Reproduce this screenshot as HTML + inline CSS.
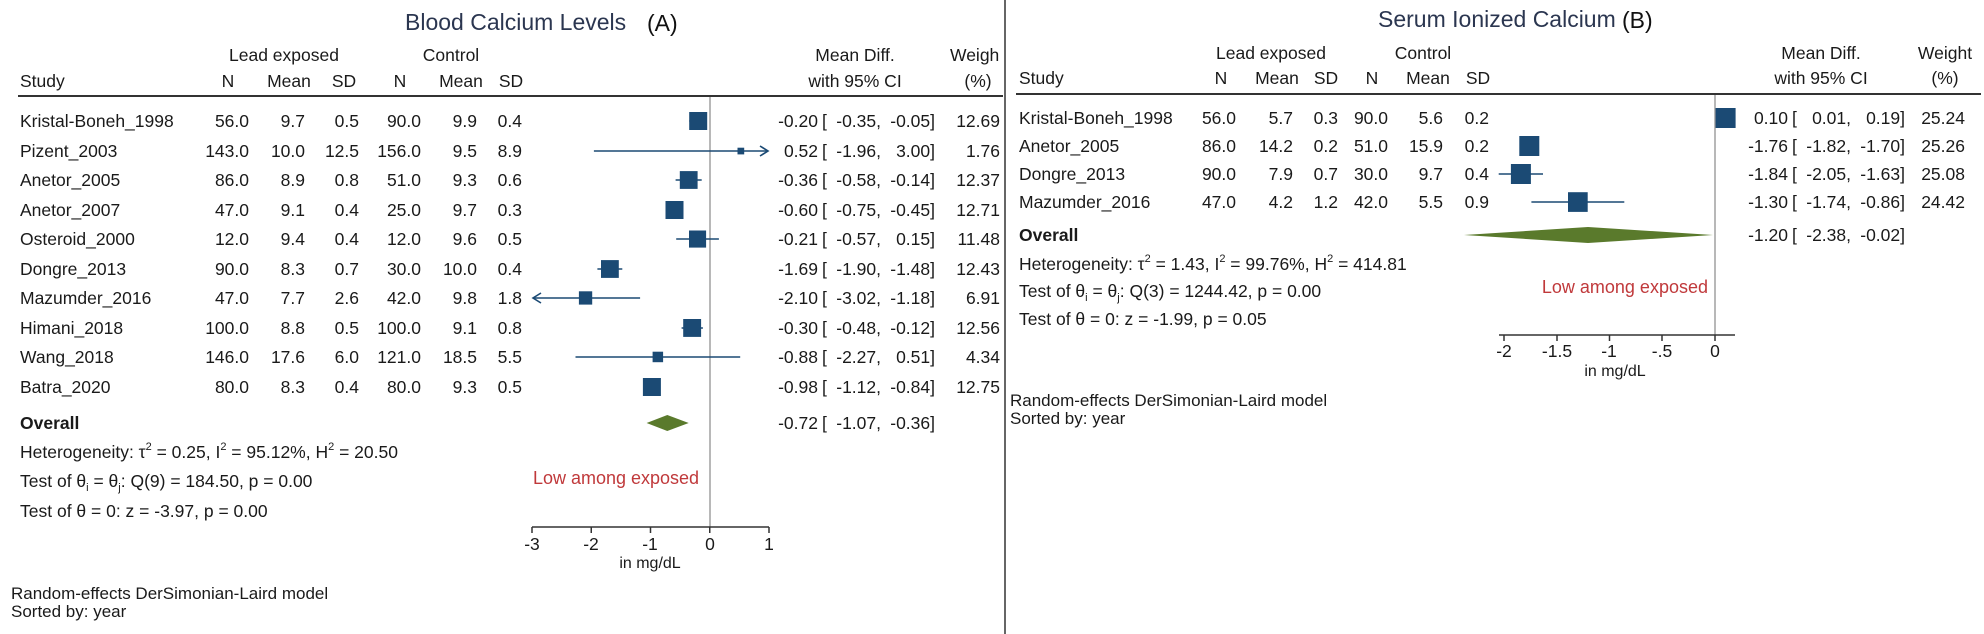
<!DOCTYPE html>
<html><head><meta charset="utf-8"><style>
html,body{margin:0;padding:0;background:#fff;}
svg{display:block;}
text{font-family:"Liberation Sans",Arial,sans-serif;font-size:17.5px;fill:#1a1a1a;}
.t{font-size:23px;fill:#2b3650;}
.e{text-anchor:end;}
.m{text-anchor:middle;}
.b{font-weight:bold;}
.r{fill:#c0393b;font-size:18px;}
.sm{font-size:11px;}
.bx{fill:#1b4a74;}
.ln{stroke:#1b4a74;stroke-width:1.6;fill:none;}
.ax{stroke:#333;stroke-width:1.5;fill:none;}
.z{stroke:#888;stroke-width:1.2;}
</style></head><body>
<svg width="1984" height="634" viewBox="0 0 1984 634" xmlns="http://www.w3.org/2000/svg">
<!-- divider -->
<line x1="1005" y1="0" x2="1005" y2="634" stroke="#333" stroke-width="1.5"/>

<!-- ================= PANEL A ================= -->
<text x="405" y="30" class="t">Blood Calcium Levels</text>
<text x="647" y="31" class="t" style="fill:#111">(A)</text>
<text x="284" y="61" class="m">Lead exposed</text>
<text x="451" y="61" class="m">Control</text>
<text x="855" y="61" class="m">Mean Diff.</text>
<text x="950" y="61">Weigh</text>
<text x="20" y="87">Study</text>
<text x="228" y="87" class="m">N</text>
<text x="289" y="87" class="m">Mean</text>
<text x="344" y="87" class="m">SD</text>
<text x="400" y="87" class="m">N</text>
<text x="461" y="87" class="m">Mean</text>
<text x="511" y="87" class="m">SD</text>
<text x="855" y="87" class="m">with 95% CI</text>
<text x="978" y="87" class="m">(%)</text>
<line x1="18" y1="96" x2="1003" y2="96" stroke="#333" stroke-width="2"/>
<line x1="710" y1="97" x2="710" y2="527" class="z"/>

<!-- rows A -->
<g>
<text x="20" y="127">Kristal-Boneh_1998</text><text x="249" y="127" class="e">56.0</text><text x="305" y="127" class="e">9.7</text><text x="359" y="127" class="e">0.5</text><text x="421" y="127" class="e">90.0</text><text x="477" y="127" class="e">9.9</text><text x="522" y="127" class="e">0.4</text>
<text x="20" y="157">Pizent_2003</text><text x="249" y="157" class="e">143.0</text><text x="305" y="157" class="e">10.0</text><text x="359" y="157" class="e">12.5</text><text x="421" y="157" class="e">156.0</text><text x="477" y="157" class="e">9.5</text><text x="522" y="157" class="e">8.9</text>
<text x="20" y="186">Anetor_2005</text><text x="249" y="186" class="e">86.0</text><text x="305" y="186" class="e">8.9</text><text x="359" y="186" class="e">0.8</text><text x="421" y="186" class="e">51.0</text><text x="477" y="186" class="e">9.3</text><text x="522" y="186" class="e">0.6</text>
<text x="20" y="216">Anetor_2007</text><text x="249" y="216" class="e">47.0</text><text x="305" y="216" class="e">9.1</text><text x="359" y="216" class="e">0.4</text><text x="421" y="216" class="e">25.0</text><text x="477" y="216" class="e">9.7</text><text x="522" y="216" class="e">0.3</text>
<text x="20" y="245">Osteroid_2000</text><text x="249" y="245" class="e">12.0</text><text x="305" y="245" class="e">9.4</text><text x="359" y="245" class="e">0.4</text><text x="421" y="245" class="e">12.0</text><text x="477" y="245" class="e">9.6</text><text x="522" y="245" class="e">0.5</text>
<text x="20" y="275">Dongre_2013</text><text x="249" y="275" class="e">90.0</text><text x="305" y="275" class="e">8.3</text><text x="359" y="275" class="e">0.7</text><text x="421" y="275" class="e">30.0</text><text x="477" y="275" class="e">10.0</text><text x="522" y="275" class="e">0.4</text>
<text x="20" y="304">Mazumder_2016</text><text x="249" y="304" class="e">47.0</text><text x="305" y="304" class="e">7.7</text><text x="359" y="304" class="e">2.6</text><text x="421" y="304" class="e">42.0</text><text x="477" y="304" class="e">9.8</text><text x="522" y="304" class="e">1.8</text>
<text x="20" y="334">Himani_2018</text><text x="249" y="334" class="e">100.0</text><text x="305" y="334" class="e">8.8</text><text x="359" y="334" class="e">0.5</text><text x="421" y="334" class="e">100.0</text><text x="477" y="334" class="e">9.1</text><text x="522" y="334" class="e">0.8</text>
<text x="20" y="363">Wang_2018</text><text x="249" y="363" class="e">146.0</text><text x="305" y="363" class="e">17.6</text><text x="359" y="363" class="e">6.0</text><text x="421" y="363" class="e">121.0</text><text x="477" y="363" class="e">18.5</text><text x="522" y="363" class="e">5.5</text>
<text x="20" y="393">Batra_2020</text><text x="249" y="393" class="e">80.0</text><text x="305" y="393" class="e">8.3</text><text x="359" y="393" class="e">0.4</text><text x="421" y="393" class="e">80.0</text><text x="477" y="393" class="e">9.3</text><text x="522" y="393" class="e">0.5</text>
<text x="20" y="429" class="b">Overall</text>
</g>

<!-- effect columns A -->
<g>
<text x="818" y="127" class="e">-0.20</text><text x="822" y="127">[</text><text x="881" y="127" class="e">-0.35,</text><text x="935" y="127" class="e">-0.05]</text><text x="1000" y="127" class="e">12.69</text>
<text x="818" y="157" class="e">0.52</text><text x="822" y="157">[</text><text x="881" y="157" class="e">-1.96,</text><text x="935" y="157" class="e">3.00]</text><text x="1000" y="157" class="e">1.76</text>
<text x="818" y="186" class="e">-0.36</text><text x="822" y="186">[</text><text x="881" y="186" class="e">-0.58,</text><text x="935" y="186" class="e">-0.14]</text><text x="1000" y="186" class="e">12.37</text>
<text x="818" y="216" class="e">-0.60</text><text x="822" y="216">[</text><text x="881" y="216" class="e">-0.75,</text><text x="935" y="216" class="e">-0.45]</text><text x="1000" y="216" class="e">12.71</text>
<text x="818" y="245" class="e">-0.21</text><text x="822" y="245">[</text><text x="881" y="245" class="e">-0.57,</text><text x="935" y="245" class="e">0.15]</text><text x="1000" y="245" class="e">11.48</text>
<text x="818" y="275" class="e">-1.69</text><text x="822" y="275">[</text><text x="881" y="275" class="e">-1.90,</text><text x="935" y="275" class="e">-1.48]</text><text x="1000" y="275" class="e">12.43</text>
<text x="818" y="304" class="e">-2.10</text><text x="822" y="304">[</text><text x="881" y="304" class="e">-3.02,</text><text x="935" y="304" class="e">-1.18]</text><text x="1000" y="304" class="e">6.91</text>
<text x="818" y="334" class="e">-0.30</text><text x="822" y="334">[</text><text x="881" y="334" class="e">-0.48,</text><text x="935" y="334" class="e">-0.12]</text><text x="1000" y="334" class="e">12.56</text>
<text x="818" y="363" class="e">-0.88</text><text x="822" y="363">[</text><text x="881" y="363" class="e">-2.27,</text><text x="935" y="363" class="e">0.51]</text><text x="1000" y="363" class="e">4.34</text>
<text x="818" y="393" class="e">-0.98</text><text x="822" y="393">[</text><text x="881" y="393" class="e">-1.12,</text><text x="935" y="393" class="e">-0.84]</text><text x="1000" y="393" class="e">12.75</text>
<text x="818" y="429" class="e">-0.72</text><text x="822" y="429">[</text><text x="881" y="429" class="e">-1.07,</text><text x="935" y="429" class="e">-0.36]</text>
</g>

<!-- plot A -->
<g>
<line class="ln" x1="689.3" y1="121" x2="707" y2="121"/><rect class="bx" x="689.2" y="112" width="18" height="18"/>
<line class="ln" x1="593.9" y1="151" x2="767" y2="151"/><path class="ln" d="M760,146 L768,151 L760,156"/><rect class="bx" x="737.5" y="147.7" width="6.7" height="6.7"/>
<line class="ln" x1="675.6" y1="180" x2="701.7" y2="180"/><rect class="bx" x="679.8" y="171.1" width="17.8" height="17.8"/>
<line class="ln" x1="665.6" y1="210" x2="683.3" y2="210"/><rect class="bx" x="665.5" y="201" width="18" height="18"/>
<line class="ln" x1="676.2" y1="239" x2="718.9" y2="239"/><rect class="bx" x="689" y="230.5" width="17.1" height="17.1"/>
<line class="ln" x1="597.4" y1="269" x2="622.3" y2="269"/><rect class="bx" x="601" y="260.1" width="17.8" height="17.8"/>
<line class="ln" x1="534" y1="298" x2="640.1" y2="298"/><path class="ln" d="M541,293 L533,298 L541,303"/><rect class="bx" x="578.9" y="291.3" width="13.3" height="13.3"/>
<line class="ln" x1="681.6" y1="328" x2="702.9" y2="328"/><rect class="bx" x="683.2" y="319" width="17.9" height="17.9"/>
<line class="ln" x1="575.5" y1="357" x2="740.2" y2="357"/><rect class="bx" x="652.6" y="351.7" width="10.5" height="10.5"/>
<line class="ln" x1="643.6" y1="387" x2="660.2" y2="387"/><rect class="bx" x="642.9" y="378" width="18" height="18"/>
<polygon points="646.6,423 667.3,415 688.7,423 667.3,431" fill="#5a7a2c"/>
</g>
<text x="616" y="484" class="r m">Low among exposed</text>
<!-- axis A -->
<g>
<line class="ax" x1="532" y1="527" x2="769" y2="527"/>
<line class="ax" x1="532" y1="527" x2="532" y2="533"/><line class="ax" x1="591.25" y1="527" x2="591.25" y2="533"/><line class="ax" x1="650.5" y1="527" x2="650.5" y2="533"/><line class="ax" x1="709.75" y1="527" x2="709.75" y2="533"/><line class="ax" x1="769" y1="527" x2="769" y2="533"/>
<text x="532" y="550" class="m">-3</text><text x="591" y="550" class="m">-2</text><text x="650" y="550" class="m">-1</text><text x="710" y="550" class="m">0</text><text x="769" y="550" class="m">1</text>
<text x="650" y="568" class="m" style="font-size:16px">in mg/dL</text>
</g>
<!-- stats A -->
<text x="20" y="458">Heterogeneity: τ<tspan class="sm" dy="-8">2</tspan><tspan dy="8"> = 0.25, I</tspan><tspan class="sm" dy="-8">2</tspan><tspan dy="8"> = 95.12%, H</tspan><tspan class="sm" dy="-8">2</tspan><tspan dy="8"> = 20.50</tspan></text>
<text x="20" y="487">Test of θ<tspan class="sm" dy="4">i</tspan><tspan dy="-4"> = θ</tspan><tspan class="sm" dy="4">j</tspan><tspan dy="-4">: Q(9) = 184.50, p = 0.00</tspan></text>
<text x="20" y="517">Test of θ = 0: z = -3.97, p = 0.00</text>
<text x="11" y="599" style="font-size:17px">Random-effects DerSimonian-Laird model</text>
<text x="11" y="617" style="font-size:17px">Sorted by: year</text>

<!-- ================= PANEL B ================= -->
<text x="1378" y="27" class="t">Serum Ionized Calcium</text>
<text x="1622" y="28" class="t" style="fill:#111">(B)</text>
<text x="1271" y="59" class="m">Lead exposed</text>
<text x="1423" y="59" class="m">Control</text>
<text x="1821" y="59" class="m">Mean Diff.</text>
<text x="1945" y="59" class="m">Weight</text>
<text x="1019" y="84">Study</text>
<text x="1221" y="84" class="m">N</text>
<text x="1277" y="84" class="m">Mean</text>
<text x="1326" y="84" class="m">SD</text>
<text x="1372" y="84" class="m">N</text>
<text x="1428" y="84" class="m">Mean</text>
<text x="1478" y="84" class="m">SD</text>
<text x="1821" y="84" class="m">with 95% CI</text>
<text x="1945" y="84" class="m">(%)</text>
<line x1="1016" y1="94" x2="1981" y2="94" stroke="#333" stroke-width="2"/>
<line x1="1715" y1="95" x2="1715" y2="335" class="z"/>

<g>
<text x="1019" y="124">Kristal-Boneh_1998</text><text x="1236" y="124" class="e">56.0</text><text x="1293" y="124" class="e">5.7</text><text x="1338" y="124" class="e">0.3</text><text x="1388" y="124" class="e">90.0</text><text x="1443" y="124" class="e">5.6</text><text x="1489" y="124" class="e">0.2</text>
<text x="1019" y="152">Anetor_2005</text><text x="1236" y="152" class="e">86.0</text><text x="1293" y="152" class="e">14.2</text><text x="1338" y="152" class="e">0.2</text><text x="1388" y="152" class="e">51.0</text><text x="1443" y="152" class="e">15.9</text><text x="1489" y="152" class="e">0.2</text>
<text x="1019" y="180">Dongre_2013</text><text x="1236" y="180" class="e">90.0</text><text x="1293" y="180" class="e">7.9</text><text x="1338" y="180" class="e">0.7</text><text x="1388" y="180" class="e">30.0</text><text x="1443" y="180" class="e">9.7</text><text x="1489" y="180" class="e">0.4</text>
<text x="1019" y="208">Mazumder_2016</text><text x="1236" y="208" class="e">47.0</text><text x="1293" y="208" class="e">4.2</text><text x="1338" y="208" class="e">1.2</text><text x="1388" y="208" class="e">42.0</text><text x="1443" y="208" class="e">5.5</text><text x="1489" y="208" class="e">0.9</text>
<text x="1019" y="241" class="b">Overall</text>
</g>
<g>
<text x="1788" y="124" class="e">0.10</text><text x="1792" y="124">[</text><text x="1851" y="124" class="e">0.01,</text><text x="1905" y="124" class="e">0.19]</text><text x="1965" y="124" class="e">25.24</text>
<text x="1788" y="152" class="e">-1.76</text><text x="1792" y="152">[</text><text x="1851" y="152" class="e">-1.82,</text><text x="1905" y="152" class="e">-1.70]</text><text x="1965" y="152" class="e">25.26</text>
<text x="1788" y="180" class="e">-1.84</text><text x="1792" y="180">[</text><text x="1851" y="180" class="e">-2.05,</text><text x="1905" y="180" class="e">-1.63]</text><text x="1965" y="180" class="e">25.08</text>
<text x="1788" y="208" class="e">-1.30</text><text x="1792" y="208">[</text><text x="1851" y="208" class="e">-1.74,</text><text x="1905" y="208" class="e">-0.86]</text><text x="1965" y="208" class="e">24.42</text>
<text x="1788" y="241" class="e">-1.20</text><text x="1792" y="241">[</text><text x="1851" y="241" class="e">-2.38,</text><text x="1905" y="241" class="e">-0.02]</text>
</g>
<g>
<line class="ln" x1="1716" y1="118" x2="1735" y2="118"/><rect class="bx" x="1715.6" y="108" width="20" height="20"/>
<line class="ln" x1="1523" y1="146" x2="1535.6" y2="146"/><rect class="bx" x="1519.3" y="136" width="20" height="20"/>
<line class="ln" x1="1498.7" y1="174" x2="1543" y2="174"/><rect class="bx" x="1510.9" y="164" width="20" height="20"/>
<line class="ln" x1="1531.4" y1="202" x2="1624.3" y2="202"/><rect class="bx" x="1568" y="192.2" width="19.7" height="19.7"/>
<polygon points="1464,235 1588,227 1713,235 1588,243" fill="#5a7a2c"/>
</g>
<text x="1708" y="293" class="r e">Low among exposed</text>
<g>
<line class="ax" x1="1499" y1="335" x2="1735" y2="335"/>
<line class="ax" x1="1504" y1="335" x2="1504" y2="341"/><line class="ax" x1="1557" y1="335" x2="1557" y2="341"/><line class="ax" x1="1609.5" y1="335" x2="1609.5" y2="341"/><line class="ax" x1="1662" y1="335" x2="1662" y2="341"/><line class="ax" x1="1715" y1="335" x2="1715" y2="341"/>
<text x="1504" y="357" class="m">-2</text><text x="1557" y="357" class="m">-1.5</text><text x="1609" y="357" class="m">-1</text><text x="1662" y="357" class="m">-.5</text><text x="1715" y="357" class="m">0</text>
<text x="1615" y="376" class="m" style="font-size:16px">in mg/dL</text>
</g>
<text x="1019" y="270">Heterogeneity: τ<tspan class="sm" dy="-8">2</tspan><tspan dy="8"> = 1.43, I</tspan><tspan class="sm" dy="-8">2</tspan><tspan dy="8"> = 99.76%, H</tspan><tspan class="sm" dy="-8">2</tspan><tspan dy="8"> = 414.81</tspan></text>
<text x="1019" y="297">Test of θ<tspan class="sm" dy="4">i</tspan><tspan dy="-4"> = θ</tspan><tspan class="sm" dy="4">j</tspan><tspan dy="-4">: Q(3) = 1244.42, p = 0.00</tspan></text>
<text x="1019" y="325">Test of θ = 0: z = -1.99, p = 0.05</text>
<text x="1010" y="406" style="font-size:17px">Random-effects DerSimonian-Laird model</text>
<text x="1010" y="424" style="font-size:17px">Sorted by: year</text>
</svg>
</body></html>
